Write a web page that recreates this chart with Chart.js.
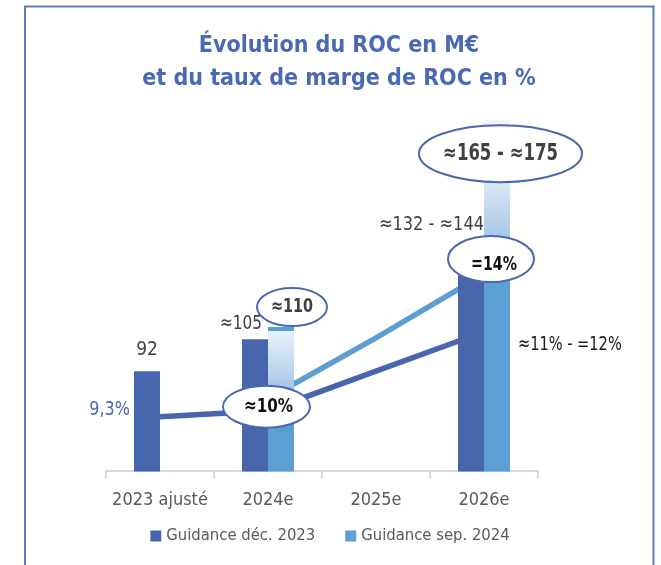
<!DOCTYPE html>
<html><head><meta charset="utf-8">
<script src="https://cdn.jsdelivr.net/npm/chart.js@4"></script>
<style>html,body{margin:0;padding:0;background:#fff;}#wrap{position:relative;width:661px;height:565px;}</style>
</head><body><div id="wrap"><canvas id="c" width="661" height="565"></canvas></div>
<script>
// ---- data ----
const categories = ['2023 ajusté', '2024e', '2025e', '2026e'];
const seriesNames = ['Guidance déc. 2023', 'Guidance sep. 2024'];
const rocDec2023 = [92, 105, null, 144];
const rocSep2024 = [null, 110, null, 195];
const margeDec2023 = [9.3, 9.5, 10.8, 12.1];
const margeSep2024 = [null, 9.9, 11.9, 14.0];
const titleLines = ['Évolution du ROC en M€', 'et du taux de marge de ROC en %'];
const annotationTexts = ['92', '9,3%', '≈105', '≈110', '≈10%', '≈132 - ≈144', '≈165 - ≈175', '=14%', '≈11% - =12%'];

// ---- style ----
const FONT = '"DejaVu Sans Condensed", Roboto, sans-serif';
const DARK = '#4866ae';
const LIGHT = '#5d9ed3';
const fadeStyle = {
  1: {len: 94, stops: [[0, '#e9f0f9'], [0.5, '#b5cfeb'], [1, LIGHT]]},
  3: {len: 157, stops: [[0, '#f3f7fc'], [0.4, '#dce7f4'], [0.75, '#a8c7e7'], [1, LIGHT]]}
};

function sepFill(ctx) {
  const chart = ctx.chart;
  const f = fadeStyle[ctx.dataIndex];
  if (!f || ctx.raw == null || !chart.scales || !chart.scales.y) return LIGHT;
  const top = chart.scales.y.getPixelForValue(ctx.raw) + (ctx.dataIndex === 1 ? 4 : 0);
  if (!isFinite(top)) return LIGHT;
  const g = chart.ctx.createLinearGradient(0, top, 0, top + f.len);
  f.stops.forEach(s => g.addColorStop(s[0], s[1]));
  return g;
}
function sepBorder(ctx) {
  return ctx.dataIndex === 1 ? {top: 4, left: 0, right: 0, bottom: 0} : 0;
}

function ellipse(c, cx, cy, rx, ry) {
  c.beginPath();
  c.ellipse(cx, cy, rx, ry, 0, 0, Math.PI * 2);
  c.fillStyle = '#ffffff';
  c.fill();
  c.lineWidth = 2;
  c.strokeStyle = '#4a67b0';
  c.stroke();
}
function txt(c, s, x, y, font, color, align, sx) {
  c.save();
  c.font = font;
  c.fillStyle = color;
  c.textAlign = align || 'center';
  c.textBaseline = 'middle';
  c.translate(x, y);
  c.scale(sx || 1, 1);
  c.fillText(s, 0, 0);
  c.restore();
}

const decor = {
  id: 'decor',
  beforeDraw(chart) {
    const c = chart.ctx;
    c.save();
    c.strokeStyle = '#5a7bc4';
    c.lineWidth = 2;
    c.beginPath();
    c.moveTo(25, 565); c.lineTo(25, 6.5); c.lineTo(653.5, 6.5); c.lineTo(653.5, 565);
    c.stroke();
    txt(c, titleLines[0], 339, 46, 'bold 23px ' + FONT, '#4a69b4', 'center', 1);
    txt(c, titleLines[1], 339, 79, 'bold 23px ' + FONT, '#4a69b4', 'center', 1);
    c.restore();
  },
  afterDraw(chart) {
    const c = chart.ctx;
    const xs = chart.scales.x, ys = chart.scales.y, y1 = chart.scales.y1;
    const d = chart.getDatasetMeta(0).data, l = chart.getDatasetMeta(1).data;
    const T = annotationTexts;
    const reg = '20px ' + FONT;
    c.save();
    // 92
    txt(c, T[0], d[0].x, d[0].y - 21, reg, '#404040', 'center', 0.95);
    // 9,3%
    txt(c, T[1], d[0].x - d[0].width / 2 - 4, y1.getPixelForValue(margeDec2023[0]) - 7, reg, '#4a67b0', 'right', 0.89);
    // ≈105
    txt(c, T[2], d[1].x + 7, d[1].y - 16, reg, '#404040', 'right', 0.85);
    // ≈110
    ellipse(c, l[1].x + 11, l[1].y - 20, 35, 19);
    txt(c, T[3], l[1].x + 11, l[1].y - 20, 'bold 19.5px ' + FONT, '#404040', 'center', 0.82);
    // ≈10%
    const e10x = xs.getPixelForValue(1) - 1.5, e10y = y1.getPixelForValue(margeDec2023[1]) - 4;
    ellipse(c, e10x, e10y, 43.5, 21);
    txt(c, T[4], e10x + 2, e10y, 'bold 20px ' + FONT, '#111111', 'center', 0.845);
    // ≈132 - ≈144
    txt(c, T[5], l[3].x - l[3].width / 2, d[3].y - 19, reg, '#404040', 'right', 0.9);
    // ≈165 - ≈175
    const ebx = l[3].x + 3.5, eby = ys.getPixelForValue(175) - 14.5;
    ellipse(c, ebx, eby, 81.5, 28.5);
    txt(c, T[6], ebx, eby + 1, 'bold 22.5px ' + FONT, '#404040', 'center', 0.815);
    // =14%
    const e14x = xs.getPixelForValue(3) + 7, e14y = y1.getPixelForValue(margeSep2024[3]) - 15;
    ellipse(c, e14x, e14y, 43, 23);
    txt(c, T[7], e14x + 3, e14y + 6, 'bold 20px ' + FONT, '#111111', 'center', 0.79);
    // ≈11% - =12%
    txt(c, T[8], l[3].x + l[3].width / 2 + 8, y1.getPixelForValue(margeDec2023[3]) + 13, reg, '#1a1a1a', 'left', 0.81);

    // legend (drawn from the bar datasets)
    const ds = chart.data.datasets.slice(0, 2);
    c.font = '16.5px ' + FONT;
    const widths = ds.map(s => c.measureText(s.label).width);
    const box = 11, gapText = 5, gapItem = 30;
    const total = widths.reduce((a, w) => a + box + gapText + w, 0) + gapItem * (ds.length - 1);
    let lx = (chart.chartArea.left + chart.chartArea.right) / 2 + 8 - total / 2;
    const ly = 536;
    ds.forEach((s, i) => {
      c.fillStyle = i === 0 ? DARK : LIGHT;
      c.fillRect(lx, ly - box / 2, box, box);
      txt(c, s.label, lx + box + gapText, ly, '16.5px ' + FONT, '#595959', 'left', 1);
      lx += box + gapText + widths[i] + gapItem;
    });
    c.restore();
  }
};

new Chart(document.getElementById('c'), {
  type: 'bar',
  data: {
    labels: categories,
    datasets: [
      {type: 'bar', label: seriesNames[0], data: rocDec2023, backgroundColor: DARK, yAxisID: 'y', order: 1},
      {type: 'bar', label: seriesNames[1], data: rocSep2024, backgroundColor: sepFill, borderColor: LIGHT,
       borderWidth: sepBorder, yAxisID: 'y', order: 1},
      {type: 'line', label: 'Marge déc. 2023', data: margeDec2023, borderColor: DARK, borderWidth: 5.5,
       pointRadius: 0, yAxisID: 'y1', order: 2, spanGaps: true, tension: 0},
      {type: 'line', label: 'Marge sep. 2024', data: margeSep2024, borderColor: LIGHT, borderWidth: 5.5,
       pointRadius: 0, yAxisID: 'y1', order: 2, spanGaps: true, tension: 0}
    ]
  },
  options: {
    responsive: false, animation: false, devicePixelRatio: 1,
    layout: {padding: {left: 8, right: 8, top: 107, bottom: 43}},
    datasets: {bar: {categoryPercentage: 0.4815, barPercentage: 1}},
    scales: {
      x: {
        grid: {display: true, drawOnChartArea: false, drawTicks: true, tickLength: 7, color: '#d9d9d9', lineWidth: 2, offset: true},
        border: {display: true, color: '#d9d9d9', width: 2},
        ticks: {font: {family: FONT, size: 18}, color: '#595959', padding: 11}
      },
      y: {position: 'left', min: 51, max: 200, ticks: {display: false}, grid: {display: false}, border: {display: false},
          afterFit(s) { s.width = 98; }},
      y1: {position: 'right', min: 7.5, max: 19.5, ticks: {display: false}, grid: {display: false}, border: {display: false},
          afterFit(s) { s.width = 115; }}
    },
    plugins: {
      legend: {display: false},
      title: {display: false},
      tooltip: {enabled: false}
    }
  },
  plugins: [decor]
});
</script></body></html>
